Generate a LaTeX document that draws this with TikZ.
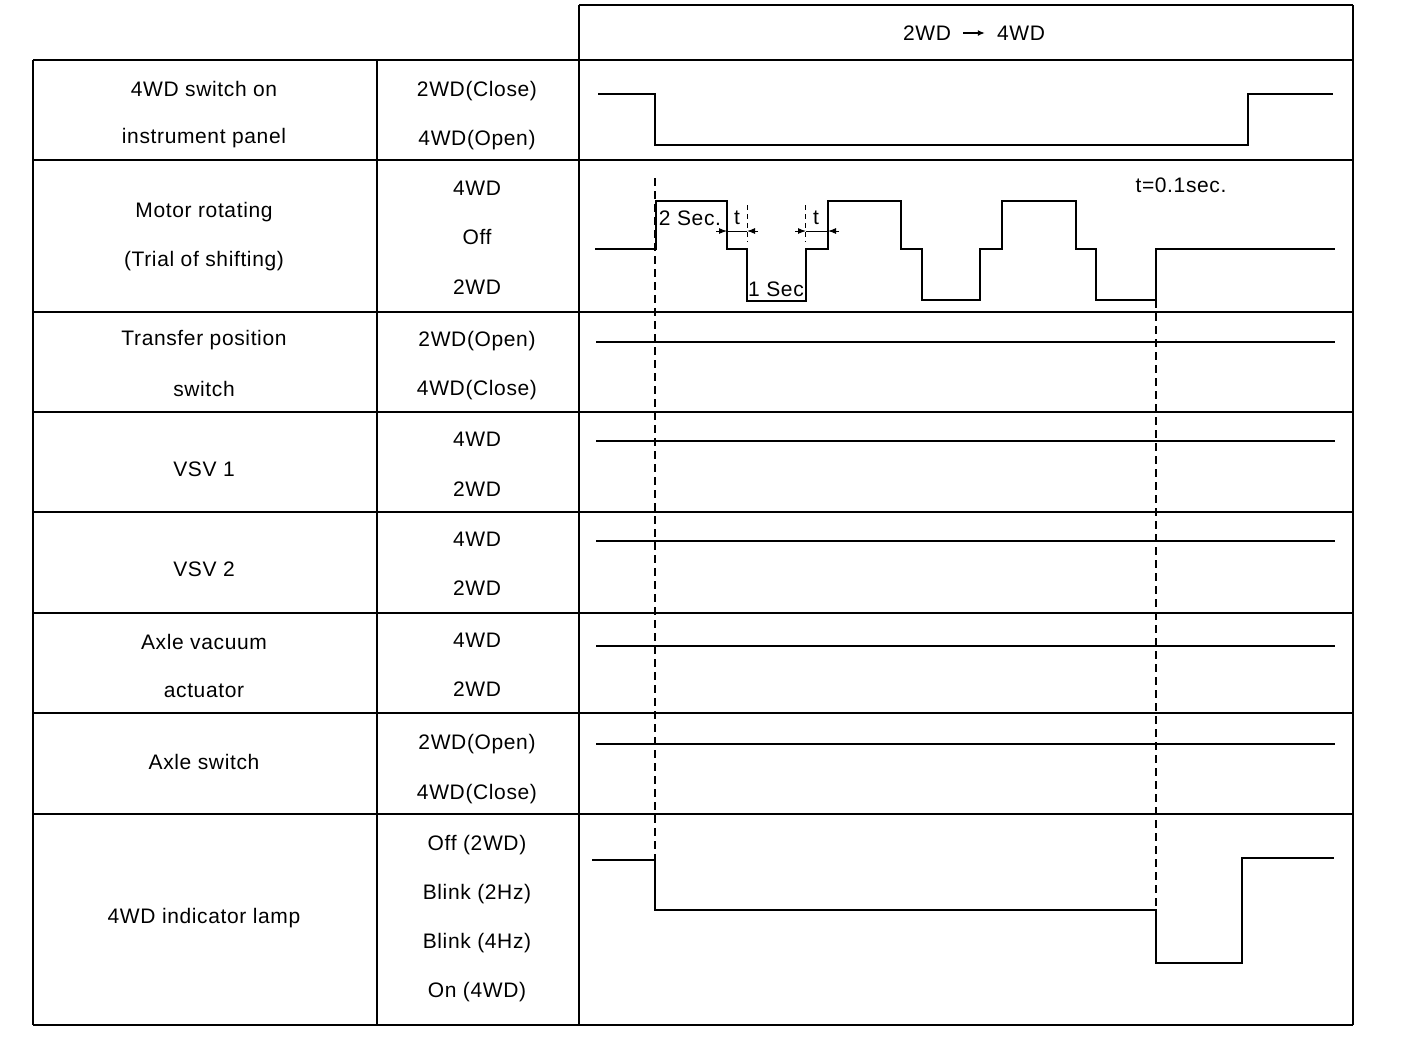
\documentclass[tikz,border=0pt]{standalone}
\usepackage{fontspec}
\setmainfont{Liberation Sans}[LetterSpace=3]
\usetikzlibrary{arrows.meta}
\begin{document}
\begin{tikzpicture}[x=1pt,y=-1pt,
  grid/.style={line width=1.4pt,black},
  sig/.style={line width=1.5pt,black},
  guide/.style={line width=1.3pt,dash pattern=on 8pt off 5pt},
  lbl/.style={font=\fontsize{21}{25}\selectfont,inner sep=0pt,anchor=center},
  dimarrow/.style={line width=1pt,-{Latex[length=8pt,width=6pt]}}]
\useasboundingbox[fill=white] (0,0) rectangle (1408,1058);
% table grid
\draw[grid] (579,5) -- (1353,5);
\foreach \y in {60,160,312,412,512,613,713,814,1025} \draw[grid] (33,\y) -- (1353,\y);
\draw[grid] (33,60) -- (33,1025);
\draw[grid] (377,60) -- (377,1025);
\draw[grid] (579,5) -- (579,1025);
\draw[grid] (1353,5) -- (1353,1025);
% header
\node[lbl] (h1) at (927,33) {2WD};
\node[lbl] (h2) at (1021,33) {4WD};
\draw[line width=1.4pt,-{Latex[length=7pt,width=6pt]}] ([xshift=12pt]h1.east) -- ([xshift=-12pt]h2.west);
% left labels
\node[lbl] (a1) at (204,89) {4WD switch on};
\node[lbl] (a2) at (204,138) {instrument panel};
\node[lbl] (b1) at (204,212) {Motor rotating};
\node[lbl] (b2) at (204,261) {(Trial of shifting)};
\node[lbl] (c1) at (204,340) {Transfer position};
\node[lbl] (c2) at (204,389) {switch};
\node[lbl] (d1) at (204,469) {VSV 1};
\node[lbl] (e1) at (204,569) {VSV 2};
\node[lbl] (f1) at (204,642) {Axle vacuum};
\node[lbl] (f2) at (204,691) {actuator};
\node[lbl] (g1) at (204,762) {Axle switch};
\node[lbl] (k1) at (204,918) {4WD indicator lamp};
% middle labels
\node[lbl] (ma1) at (477,91) {2WD(Close)};
\node[lbl] (ma2) at (477,140) {4WD(Open)};
\node[lbl] (mb1) at (477,188) {4WD};
\node[lbl] (mb2) at (477,237) {Off};
\node[lbl] (mb3) at (477,287) {2WD};
\node[lbl] (mc1) at (477,341) {2WD(Open)};
\node[lbl] (mc2) at (477,390) {4WD(Close)};
\node[lbl] (md1) at (477,439) {4WD};
\node[lbl] (md2) at (477,489) {2WD};
\node[lbl] (me1) at (477,539) {4WD};
\node[lbl] (me2) at (477,588) {2WD};
\node[lbl] (mf1) at (477,640) {4WD};
\node[lbl] (mf2) at (477,689) {2WD};
\node[lbl] (mg1) at (477,744) {2WD(Open)};
\node[lbl] (mg2) at (477,794) {4WD(Close)};
\node[lbl] (mk1) at (477,845) {Off (2WD)};
\node[lbl] (mk2) at (477,894) {Blink (2Hz)};
\node[lbl] (mk3) at (477,943) {Blink (4Hz)};
\node[lbl] (mk4) at (477,992) {On (4WD)};
% guide dashed lines
\draw[guide] (655,178) -- (655,910);
\draw[guide] (1156,300) -- (1156,963);
\draw[line width=1pt,dash pattern=on 5pt off 4pt] (747,205) -- (747,242);
\draw[line width=1pt,dash pattern=on 5pt off 4pt] (805,205) -- (805,242);
% signals
\draw[sig] (598,94) -- (655,94) -- (655,145) -- (1248,145) -- (1248,94) -- (1333,94);
\draw[sig] (595,249) -- (656,249) -- (656,201) -- (727,201) -- (727,249) -- (747,249) -- (747,301)
  -- (806,301) -- (806,249) -- (828,249) -- (828,201) -- (901,201) -- (901,249) -- (922,249) -- (922,300)
  -- (980,300) -- (980,249) -- (1002,249) -- (1002,201) -- (1076,201) -- (1076,249) -- (1096,249)
  -- (1096,300) -- (1156,300) -- (1156,249) -- (1335,249);
\draw[sig] (596,342) -- (1335,342);
\draw[sig] (596,441) -- (1335,441);
\draw[sig] (596,541) -- (1335,541);
\draw[sig] (596,646) -- (1335,646);
\draw[sig] (596,744) -- (1335,744);
\draw[sig] (592,860) -- (655,860) -- (655,910) -- (1156,910) -- (1156,963) -- (1242,963) -- (1242,858) -- (1334,858);
% timing annotations
\coordinate (t1a) at (727,231);
\coordinate (t1b) at (747,231);
\coordinate (t2a) at (806,231);
\coordinate (t2b) at (828,231);
\draw[dimarrow] ([xshift=-11pt]t1a) -- (t1a);
\draw[dimarrow] ([xshift=11pt]t1b) -- (t1b);
\draw[line width=1pt] (t1a) -- (t1b);
\draw[dimarrow] ([xshift=-11pt]t2a) -- (t2a);
\draw[dimarrow] ([xshift=11pt]t2b) -- (t2b);
\draw[line width=1pt] (t2a) -- (t2b);
\node[lbl] (tl1) at (737,218) {t};
\node[lbl] (tl2) at (816,218) {t};
\node[lbl] (s2) at (690,218) {2 Sec.};
\node[lbl] (s1) at (776,289) {1 Sec};
\node[lbl] (tt) at (1181,185) {t=0.1sec.};
\end{tikzpicture}
\end{document}
